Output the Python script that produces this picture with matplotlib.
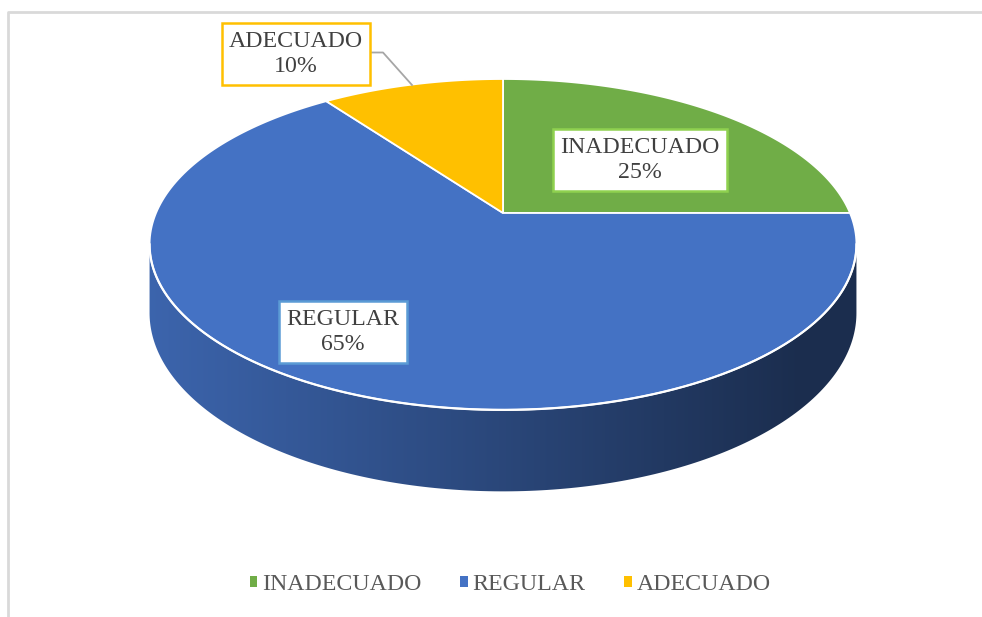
import numpy as np
import matplotlib
matplotlib.use("Agg")
import matplotlib.pyplot as plt
from matplotlib.patches import Patch, Polygon

labels = ["INADECUADO", "REGULAR", "ADECUADO"]
values = [25, 65, 10]
colors = ["#70AD47", "#4472C4", "#FFC000"]
box_edges = ["#8FD14F", "#5B9BD5", "#FFC000"]

# pixel-space geometry of the tilted pie (perspective view of a disc)
CX, CY = 503, 213
A, B, C = 347, -119, 0.19
THICK = 66

plt.rcParams["font.family"] = ["Liberation Serif", "DejaVu Serif"]


def rim(t):
    u, v = np.cos(t), np.sin(t)
    d = 1 + C * v
    return CX + A * u / d, (CY + B * v) / d


def drop(t):
    return THICK / (1 + C * np.sin(t))


fig = plt.figure(figsize=(9.82, 6.17), dpi=100)
ax = fig.add_axes([0, 0, 1, 1])
ax.set_xlim(0, 982)
ax.set_ylim(617, 0)
ax.axis("off")

# chart frame (left and top edges only are visible)
ax.plot([8.5, 8.5, 982], [617, 11.5, 11.5], color="#d9d9d9", lw=2, zorder=1)

# wedge angle ranges, clockwise from 12 o'clock
total = sum(values)
spans = [v / total * 2 * np.pi for v in values]
starts = np.pi / 2 - np.r_[0, np.cumsum(spans)[:-1]]

# side of the cylinder (only the front half is visible), shaded left to right
alpha = np.arcsin(C)
vis_lo, vis_hi = np.pi + alpha, 2 * np.pi - alpha
shade_x = np.linspace(140, 870, 300)
shade = np.clip(0.88 - (shade_x - 151) / (800 - 151) * 0.48, 0.40, 0.88)
for st, sp, col in zip(starts, spans, colors):
    hi, lo = st, st - sp
    # move range into the visible band [vis_lo, vis_hi]
    for k in (-2, -1, 0, 1):
        a0 = max(lo + k * 2 * np.pi, vis_lo)
        a1 = min(hi + k * 2 * np.pi, vis_hi)
        if a1 <= a0:
            continue
        tt = np.linspace(a0, a1, 200)
        xs, ys = rim(tt)
        poly = Polygon(np.c_[np.r_[xs, xs[::-1]], np.r_[ys, (ys + drop(tt))[::-1]]],
                       closed=True, fc="none", ec="none", transform=ax.transData)
        ax.add_patch(poly)
        rgb = np.array(matplotlib.colors.to_rgb(col))
        grad = (shade[:, None] * rgb[None, :])[None, :, :]
        im = ax.imshow(grad, extent=(140, 870, 520, 200), aspect="auto",
                       interpolation="bilinear", zorder=2)
        im.set_clip_path(poly)

# top surface wedges
for st, sp, col in zip(starts, spans, colors):
    tt = np.linspace(st, st - sp, 200)
    xs, ys = rim(tt)
    ax.fill(np.r_[CX, xs], np.r_[CY, ys], color=col, ec="white", lw=1.3, zorder=3)

# white highlight along the front rim
xf, yf = rim(np.linspace(vis_lo, vis_hi, 300))
ax.plot(xf, yf, color="white", lw=1.6, zorder=4)

ax.set_xlim(0, 982)
ax.set_ylim(617, 0)

# data labels
label_pos = [(640, 160), (343, 332), (296, 54)]
for lab, val, (lx, ly), ec in zip(labels, values, label_pos, box_edges):
    ax.text(lx, ly, f"{lab}\n{val}%", ha="center", va="center", fontsize=17.2,
            color="#404040", linespacing=1.3, zorder=6,
            bbox=dict(boxstyle="square,pad=0.3", fc="white", ec=ec, lw=1.8))

# leader line for the small slice
ax.plot([372, 383, 412], [52.5, 52.5, 85], color="#a6a6a6", lw=1.3, zorder=5)

handles = [Patch(facecolor=c, edgecolor="none", label=l) for l, c in zip(labels, colors)]
leg = ax.legend(handles=handles, loc="center", bbox_to_anchor=(510 / 982, 1 - 585 / 617),
                ncol=3, frameon=False, fontsize=17.2, handlelength=0.33, handleheight=0.33,
                handletextpad=0.2, columnspacing=1.6)
for txt in leg.get_texts():
    txt.set_color("#595959")

fig.savefig("out.png", dpi=100)
